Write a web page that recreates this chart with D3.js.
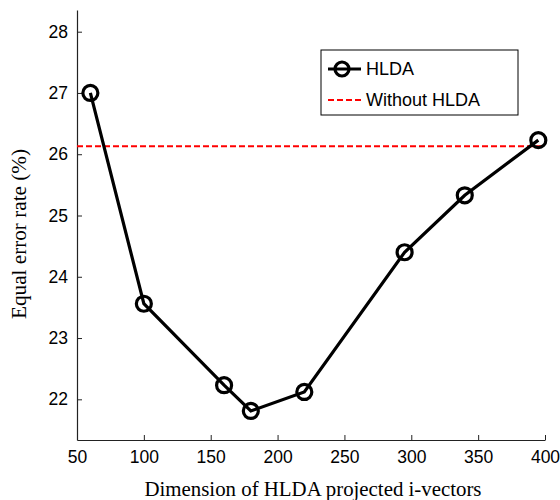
<!DOCTYPE html>
<html>
  <head>
    <script src="https://d3js.org/d3.v7.min.js"></script>
    <style>
      body { margin: 0; background: #fff; }
      .tick text { font-family: "Liberation Sans", Arial, sans-serif; font-size: 17.5px; fill: #000; }
      .title { font-family: "Liberation Serif", "Times New Roman", serif; font-size: 20px; fill: #000; }
    </style>
  </head>
  <body>
    <script>

      // data
      var dimensions = [60, 100, 160, 180, 220, 295, 340, 395]
      var eer_hlda = [27.0, 23.56, 22.23, 21.81, 22.12, 24.40, 25.33, 26.23]
      var eer_without = 26.13
      var x_ticks = [50, 100, 150, 200, 250, 300, 350, 400]
      var y_ticks = [22, 23, 24, 25, 26, 27, 28]
      var series_names = ["HLDA", "Without HLDA"]

      var w_svg = 560
      var h_svg = 500
      var plot_left = 77
      var plot_right = 545
      var plot_top = 10
      var plot_bottom = 440

      var svg = d3.select("body")
        .append("svg")
        .attr("width", w_svg)
        .attr("height", h_svg)

      // scales
      var x_scale = d3.scaleLinear()
        .domain([50, 400])
        .range([plot_left, plot_right])

      var y_scale = d3.scaleLinear()
        .domain([21.336, 28.354])
        .range([plot_bottom, plot_top])

      // axes, ticks point inward like matlab
      var x_axis = d3.axisBottom(x_scale)
        .tickValues(x_ticks)
        .tickSizeInner(-5)
        .tickSizeOuter(0)
        .tickPadding(11)
        .tickFormat(d3.format("d"))

      var y_axis = d3.axisLeft(y_scale)
        .tickValues(y_ticks)
        .tickSizeInner(-5)
        .tickSizeOuter(0)
        .tickPadding(9)
        .tickFormat(d3.format("d"))

      var gx = svg.append("g")
        .attr("transform", "translate(0," + plot_bottom + ")")
        .call(x_axis)
      gx.select(".domain").attr("stroke", "#222").attr("stroke-width", 1.2)
      gx.selectAll(".tick line").attr("stroke", "#222")

      var gy = svg.append("g")
        .attr("transform", "translate(" + plot_left + ",0)")
        .call(y_axis)
      gy.select(".domain").attr("stroke", "#222").attr("stroke-width", 1.2)
      gy.selectAll(".tick line").attr("stroke", "#222")

      // red baseline without hlda
      svg.append("line")
        .attr("x1", x_scale(50))
        .attr("x2", x_scale(400))
        .attr("y1", y_scale(eer_without))
        .attr("y2", y_scale(eer_without))
        .attr("stroke", "#ff0000")
        .attr("stroke-width", 2)
        .attr("stroke-dasharray", "6,3")

      // hlda line
      var line = d3.line()
        .x(function(d, i) { return x_scale(dimensions[i]) })
        .y(function(d) { return y_scale(d) })

      svg.append("path")
        .datum(eer_hlda)
        .attr("d", line)
        .attr("fill", "none")
        .attr("stroke", "#000")
        .attr("stroke-width", 3.2)

      svg.selectAll("circle.pt")
        .data(eer_hlda)
        .enter()
        .append("circle")
        .attr("class", "pt")
        .attr("cx", function(d, i) { return x_scale(dimensions[i]) })
        .attr("cy", function(d) { return y_scale(d) })
        .attr("r", 7.5)
        .attr("fill", "none")
        .attr("stroke", "#000")
        .attr("stroke-width", 3.2)

      // legend
      var legend = svg.append("g").attr("transform", "translate(321,50)")
      legend.append("rect")
        .attr("width", 197)
        .attr("height", 65)
        .attr("fill", "#fff")
        .attr("stroke", "#000")
        .attr("stroke-width", 1)

      legend.append("line")
        .attr("x1", 7).attr("x2", 40)
        .attr("y1", 19).attr("y2", 19)
        .attr("stroke", "#000").attr("stroke-width", 3.2)
      legend.append("circle")
        .attr("cx", 21).attr("cy", 19).attr("r", 7)
        .attr("fill", "none").attr("stroke", "#000").attr("stroke-width", 3.2)
      legend.append("line")
        .attr("x1", 7).attr("x2", 40)
        .attr("y1", 50).attr("y2", 50)
        .attr("stroke", "#ff0000").attr("stroke-width", 2)
        .attr("stroke-dasharray", "6,3")

      legend.selectAll("text")
        .data(series_names)
        .enter()
        .append("text")
        .attr("x", 45)
        .attr("y", function(d, i) { return 19 + i * 31 })
        .attr("dy", "0.35em")
        .style("font-family", "'Liberation Sans', Arial, sans-serif")
        .style("font-size", "18px")
        .text(function(d) { return d })

      // axis titles
      svg.append("text")
        .attr("class", "title")
        .attr("x", (plot_left + plot_right) / 2 + 2)
        .attr("y", 496)
        .attr("text-anchor", "middle")
        .attr("textLength", 337)
        .attr("lengthAdjust", "spacingAndGlyphs")
        .text("Dimension of HLDA projected i-vectors")

      svg.append("text")
        .attr("class", "title")
        .attr("transform", "translate(26,234) rotate(-90)")
        .attr("text-anchor", "middle")
        .attr("textLength", 170)
        .attr("lengthAdjust", "spacingAndGlyphs")
        .style("font-size", "21px")
        .text("Equal error rate (%)")

    </script>
  </body>
</html>
